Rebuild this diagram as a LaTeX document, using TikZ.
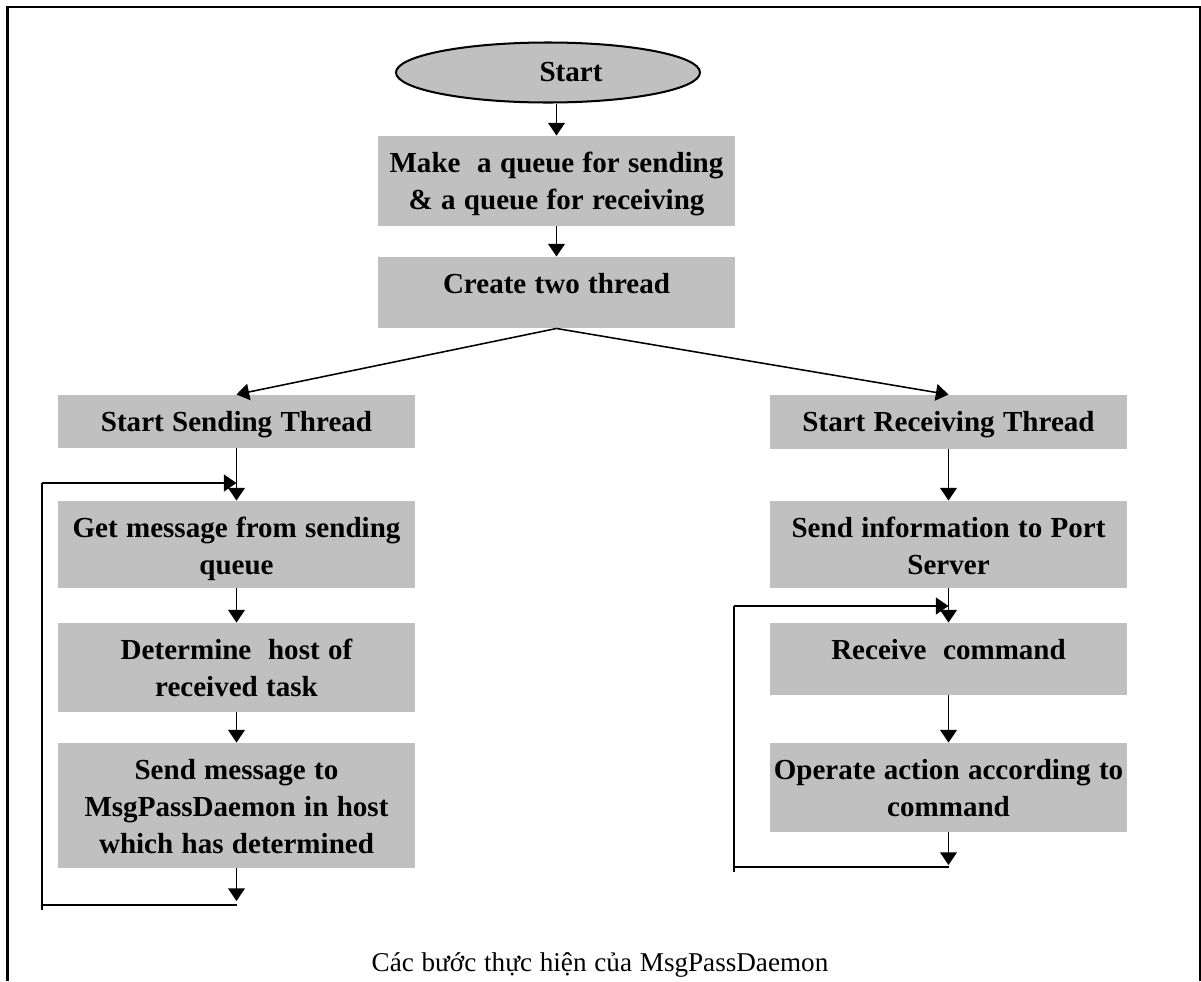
\documentclass[tikz,border=0pt]{standalone}
\usepackage{fontspec}
\setmainfont[WordSpace={1.15}]{Liberation Serif}
\usetikzlibrary{arrows.meta,shapes.geometric}
\definecolor{boxgray}{HTML}{C0C0C0}
\def\px{0.42pt}
\tikzset{
  stepfont/.style={font=\bfseries\fontsize{12.2}{15.7}\selectfont},
  stepbox/.style={fill=boxgray, draw=none, inner sep=0pt, minimum width=357*\px},
  steptext/.style={anchor=north, inner sep=0pt, align=center, stepfont},
  headed/.style={-{Triangle[length=5.3pt,width=7pt]}},
  flow/.style={line width=0.65pt, headed},
  loopline/.style={line width=0.85pt},
}
% one grey step: name, centre x, top y, bottom y, text
\newcommand\boxstep[5]{%
  \node[stepbox, minimum height={(#4-#3)*\px}] (#1) at (#2,{(#3+#4)/2}) {};
  \node[steptext] (#1-t) at ([yshift=-16*\px]#1.north) {#5};
}
\begin{document}
\begin{tikzpicture}[x=\px,y=-\px]
\useasboundingbox (0,0) rectangle (1201,981);

% open frame (no bottom edge)
\draw[line width=0.85pt] (7.5,981) -- (7.5,7) -- (1200,7) -- (1200,981);

% start terminal
\node[ellipse, draw, line width=0.85pt, fill=boxgray, minimum width=304*\px,
      minimum height=60*\px, inner sep=0pt] (start) at (548,72.5) {};
\node[stepfont, inner sep=0pt] (start-t) at (571,72.5) {Start};

% common steps
\boxstep{queues}{556.5}{136}{226}{Make~ a queue for sending\\\& a queue for receiving}
\boxstep{threads}{556.5}{257}{328}{Create two thread}

% sending thread
\boxstep{sst}{236.5}{395}{448}{Start Sending Thread}
\boxstep{getmsg}{236.5}{501}{588}{Get message from sending\\queue}
\boxstep{determine}{236.5}{623}{712}{Determine~ host of\\received task}
\boxstep{sendmsg}{236.5}{743}{868}{Send message to\\MsgPassDaemon in host\\which has determined}

% receiving thread
\boxstep{srt}{948.5}{395}{449}{Start Receiving Thread}
\boxstep{sendinfo}{948.5}{501}{588}{Send information to Port\\Server}
\boxstep{recv}{948.5}{623}{695}{Receive~ command}
\boxstep{operate}{948.5}{743}{832}{Operate action according to\\command}

% main flow
\draw[flow] (start.south -| queues.north) -- (queues.north);
\draw[flow] (queues.south) -- (threads.north);
\draw[flow] (threads.south) -- (sst.north);
\draw[flow] (threads.south) -- (srt.north);

\draw[flow] (sst.south) -- (getmsg.north);
\draw[flow] (getmsg.south) -- (determine.north);
\draw[flow] (determine.south) -- (sendmsg.north);

\draw[flow] (srt.south) -- (sendinfo.north);
\draw[flow] (sendinfo.south) -- (recv.north);
\draw[flow] (recv.south) -- (operate.north);

% sending loop
\coordinate (lt)  at (42,483);
\coordinate (lj)  at (236.5,483);
\coordinate (lbA) at (236.5,901);
\coordinate (lbB) at (236.5,905);
\coordinate (lbC) at (42,905);
\coordinate (lbD) at (42,910);
\draw[flow] (sendmsg.south) -- (lbA);
\draw[loopline] (lbB) -- (lbC);
\draw[loopline] (lbD) -- (lt);
\draw[loopline, headed] (lt) -- (lj);

% receiving loop
\coordinate (rt)  at (734,606);
\coordinate (rj)  at (948.5,606);
\coordinate (rbA) at (948.5,865);
\coordinate (rbB) at (948.5,867);
\coordinate (rbC) at (734,867);
\coordinate (rbD) at (734,872);
\draw[flow] (operate.south) -- (rbA);
\draw[loopline] (rbB) -- (rbC);
\draw[loopline] (rbD) -- (rt);
\draw[loopline, headed] (rt) -- (rj);

% caption
\node[font=\fontsize{11.4}{14}\selectfont, anchor=base, inner sep=0pt] (caption)
  at (600,971) {Các bước thực hiện của MsgPassDaemon};
\end{tikzpicture}
\end{document}
